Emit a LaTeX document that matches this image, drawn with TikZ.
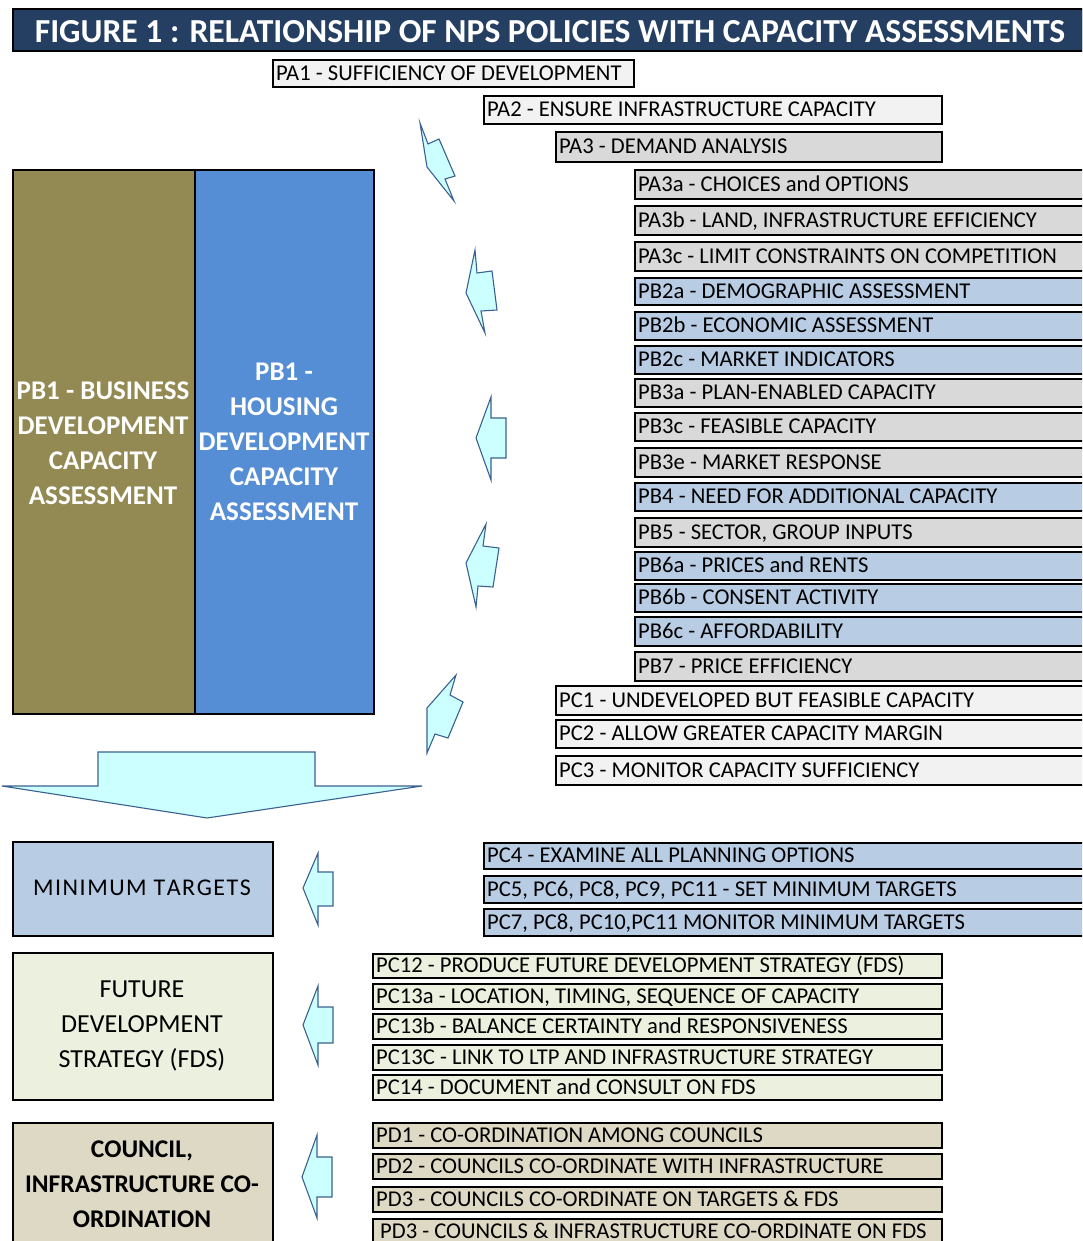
\documentclass[tikz,border=0pt]{standalone}
\usepackage{fontspec}
\setmainfont{Carlito}
\definecolor{navy}{HTML}{243F62}
\definecolor{olivebox}{HTML}{938953}
\definecolor{bluebox}{HTML}{558ED5}
\definecolor{lgrey}{HTML}{F2F2F2}
\definecolor{mgrey}{HTML}{D9D9D9}
\definecolor{lblue}{HTML}{B8CCE4}
\definecolor{lgreen}{HTML}{EBF1DE}
\definecolor{tan}{HTML}{DDD9C4}
\definecolor{arrowfill}{HTML}{CCFFFF}
\definecolor{arrowline}{HTML}{3B6190}
\newcommand\polbox[7]{%
  \pgfmathsetmacro\polbw{#4-#2}\pgfmathsetmacro\polbh{#5-#3}%
  \node[pb, fill=#6, anchor=north west, minimum width=\polbw pt, minimum height=\polbh pt] (#1) at (#2,#3) {};
  \node[ptxt] (#1t) at ([xshift=4pt,yshift=-1.5pt]#1.west) {#7};}
\begin{document}
\begin{tikzpicture}[x=1pt,y=-1pt,
  pb/.style={draw=black, line width=2pt, rectangle, inner sep=0pt},
  ptxt/.style={font=\fontsize{22.6}{25}\selectfont, inner sep=0pt, anchor=west, text height=14.5pt, text depth=4pt},
  bigbox/.style={draw=black, line width=2pt, rectangle, inner sep=0pt, anchor=north west},
  bigtxt/.style={font=\bfseries\fontsize{27}{35}\selectfont, text=white, align=center, inner sep=0pt},
  sidetxt/.style={font=\fontsize{26}{35}\selectfont, align=center, inner sep=0pt},
  arr/.style={draw=arrowline, fill=arrowfill, line width=1.1pt, line join=miter}]
\useasboundingbox (0,0) rectangle (1082,1241);
\clip (0,0) rectangle (1082,1241);
% title
\node[draw=black, line width=2pt, fill=navy, anchor=north west, minimum width=1070pt, minimum height=42pt, inner sep=0pt] (title) at (12,8) {};
\node[font=\bfseries\fontsize{33.6}{36}\selectfont, text=white, inner sep=0pt] (titlet) at ([xshift=2pt,yshift=-1.5pt]title.center) {FIGURE 1 : RELATIONSHIP OF NPS POLICIES WITH CAPACITY ASSESSMENTS};
% A / B policy boxes
\polbox{pa1}{272}{59}{633}{86}{lgrey}{PA1 - SUFFICIENCY OF DEVELOPMENT}
\polbox{pa2}{483}{95}{941}{123}{lgrey}{PA2 - ENSURE INFRASTRUCTURE CAPACITY}
\polbox{pa3}{555}{131}{941}{161}{mgrey}{PA3 - DEMAND ANALYSIS}
\polbox{pa3a}{634}{169}{1095}{198}{mgrey}{PA3a - CHOICES and OPTIONS}
\polbox{pa3b}{634}{205}{1095}{234}{mgrey}{PA3b - LAND, INFRASTRUCTURE EFFICIENCY}
\polbox{pa3c}{634}{241}{1095}{270}{mgrey}{PA3c - LIMIT CONSTRAINTS ON COMPETITION}
\polbox{pb2a}{634}{277}{1095}{304}{lblue}{PB2a - DEMOGRAPHIC ASSESSMENT}
\polbox{pb2b}{634}{311}{1095}{339}{lblue}{PB2b - ECONOMIC ASSESSMENT}
\polbox{pb2c}{634}{345}{1095}{373}{lblue}{PB2c - MARKET INDICATORS}
\polbox{pb3a}{634}{378}{1095}{406}{mgrey}{PB3a - PLAN-ENABLED CAPACITY}
\polbox{pb3c}{634}{412}{1095}{440}{mgrey}{PB3c - FEASIBLE CAPACITY}
\polbox{pb3e}{634}{447}{1095}{476}{mgrey}{PB3e - MARKET RESPONSE}
\polbox{pb4}{634}{482}{1095}{510}{lblue}{PB4 - NEED FOR ADDITIONAL CAPACITY}
\polbox{pb5}{634}{517}{1095}{546}{mgrey}{PB5 - SECTOR, GROUP INPUTS}
\polbox{pb6a}{634}{551}{1095}{579}{lblue}{PB6a - PRICES and RENTS}
\polbox{pb6b}{634}{583}{1095}{611}{lblue}{PB6b - CONSENT ACTIVITY}
\polbox{pb6c}{634}{616}{1095}{645}{lblue}{PB6c - AFFORDABILITY}
\polbox{pb7}{634}{651}{1095}{680}{mgrey}{PB7 - PRICE EFFICIENCY}
\polbox{pc1}{555}{685}{1095}{714}{lgrey}{PC1 - UNDEVELOPED BUT FEASIBLE CAPACITY}
\polbox{pc2}{555}{719}{1095}{747}{lgrey}{PC2 - ALLOW GREATER CAPACITY MARGIN}
\polbox{pc3}{555}{755}{1095}{784}{lgrey}{PC3 - MONITOR CAPACITY SUFFICIENCY}
% big assessment boxes
\node[bigbox, fill=olivebox, minimum width=182pt, minimum height=544pt] (bus) at (12,169) {};
\node[bigbox, fill=bluebox, minimum width=179pt, minimum height=544pt] (hou) at (194,169) {};
\node[bigtxt] (bust) at (103,443) {PB1 - BUSINESS\\DEVELOPMENT\\CAPACITY\\ASSESSMENT};
\node[bigtxt] (hout) at (284,442) {PB1 -\\HOUSING\\DEVELOPMENT\\CAPACITY\\ASSESSMENT};
% small arrows
\draw[arr] (420,123) -- (428,144) -- (439,139) -- (455,176) -- (445,179) -- (454,201) -- (427,167) -- cycle;
\draw[arr] (475,250) -- (477,273) -- (492,271) -- (497,310) -- (481,311) -- (485,333) -- (466,293) -- cycle;
\draw[arr] (491,397) -- (491,418) -- (506,418) -- (506,458) -- (491,458) -- (491,480) -- (476,438) -- cycle;
\draw[arr] (486,524) -- (483,546) -- (499,548) -- (493,587) -- (478,586) -- (476,607) -- (466,563) -- cycle;
\draw[arr] (456,675) -- (450,695) -- (463,702) -- (448,738) -- (435,734) -- (427,753) -- (427,708) -- cycle;
% big down arrow
\draw[arr] (98,752) -- (315,752) -- (315,786) -- (422,786) -- (207,818) -- (2,786) -- (98,786) -- cycle;
% minimum targets
\node[bigbox, fill=lblue, minimum width=260pt, minimum height=94pt] (mint) at (12,841) {};
\node[sidetxt, font=\fontsize{24}{35}\selectfont] (mintt) at (142,888) {M\kern1.5pt I\kern1.5pt N\kern1.5pt I\kern1.5pt M\kern1.5pt U\kern1.5pt M\kern1.5pt\ T\kern1.5pt A\kern1.5pt R\kern1.5pt G\kern1.5pt E\kern1.5pt T\kern1.5pt S};
\draw[arr] (318,853) -- (318,872) -- (333,872) -- (333,906) -- (318,906) -- (318,925) -- (303,888) -- cycle;
\polbox{pc4}{483}{842}{1095}{868}{lblue}{PC4 - EXAMINE ALL PLANNING OPTIONS}
\polbox{pc5}{483}{875}{1095}{902}{lblue}{PC5, PC6, PC8, PC9, PC11 - SET MINIMUM TARGETS}
\polbox{pc7}{483}{908}{1095}{935}{lblue}{PC7, PC8, PC10,PC11 MONITOR MINIMUM TARGETS}
% FDS
\node[bigbox, fill=lgreen, minimum width=260pt, minimum height=147pt] (fds) at (12,952) {};
\node[sidetxt] (fdst) at (142,1026) {FUTURE\\DEVELOPMENT\\STRATEGY (FDS)};
\draw[arr] (318,986) -- (318,1007) -- (333,1007) -- (333,1043) -- (318,1043) -- (318,1065) -- (303,1025) -- cycle;
\polbox{pc12}{372}{953}{941}{977}{lgreen}{PC12 - PRODUCE FUTURE DEVELOPMENT STRATEGY (FDS)}
\polbox{pc13a}{372}{983}{941}{1008}{lgreen}{PC13a - LOCATION, TIMING, SEQUENCE OF CAPACITY}
\polbox{pc13b}{372}{1013}{941}{1038}{lgreen}{PC13b - BALANCE CERTAINTY and RESPONSIVENESS}
\polbox{pc13c}{372}{1044}{941}{1069}{lgreen}{PC13C - LINK TO LTP AND INFRASTRUCTURE STRATEGY}
\polbox{pc14}{372}{1074}{941}{1099}{lgreen}{PC14 - DOCUMENT and CONSULT ON FDS}
% council
\node[bigbox, fill=tan, minimum width=260pt, minimum height=130pt] (cou) at (12,1122) {};
\node[sidetxt, font=\bfseries\fontsize{25.5}{35}\selectfont] (cout) at (142,1184) {COUNCIL,\\INFRASTRUCTURE CO-\\ORDINATION};
\draw[arr] (317,1135) -- (317,1157) -- (332,1157) -- (332,1197) -- (317,1197) -- (317,1218) -- (302,1177) -- cycle;
\polbox{pd1}{372}{1122}{941}{1147}{tan}{PD1 - CO-ORDINATION AMONG COUNCILS}
\polbox{pd2}{372}{1153}{941}{1178}{tan}{PD2 - COUNCILS CO-ORDINATE WITH INFRASTRUCTURE}
\polbox{pd3}{372}{1186}{941}{1211}{tan}{PD3 - COUNCILS CO-ORDINATE ON TARGETS \& FDS}
\node[pb, fill=tan, anchor=north west, minimum width=569pt, minimum height=26pt] (pd4) at (372,1218) {};
\node[ptxt, text depth=2pt] (pd4t) at ([xshift=8pt,yshift=-0.5pt]pd4.west) {PD3 - COUNCILS \& INFRASTRUCTURE CO-ORDINATE ON FDS};
\end{tikzpicture}
\end{document}
